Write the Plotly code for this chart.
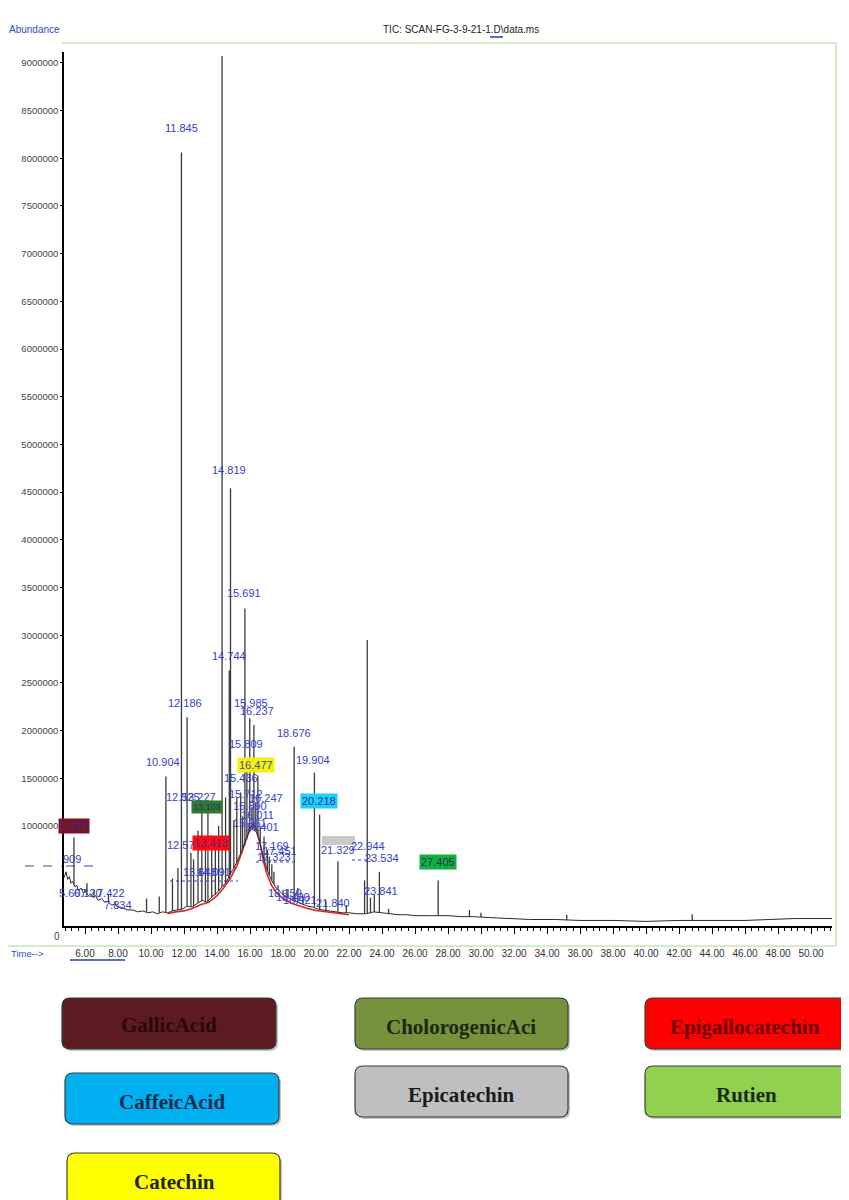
import plotly.graph_objects as go

# ---------------- data ----------------
base_time = [4.73, 4.85, 4.95, 5.05, 5.15, 5.25, 5.4, 5.5, 5.6, 5.75, 5.9, 6.0, 6.2, 6.35, 6.5, 6.65,
             6.8, 7.0, 7.2, 7.4, 7.6, 7.8, 8.0, 8.3, 8.6, 8.9, 9.2, 9.5, 9.8, 10.1, 10.4, 10.7,
             11.0, 11.3, 11.6, 11.9, 12.2, 12.5, 12.8, 13.1, 13.4, 13.7, 14.0, 14.2, 14.4, 14.6,
             14.8, 15.0, 15.2, 15.4, 15.6, 15.8, 16.0, 16.2, 16.4, 16.6, 16.8, 17.0, 17.2, 17.4,
             17.6, 17.8, 18.0, 18.3, 18.6, 18.9, 19.2, 19.5, 19.8, 20.1, 20.4, 20.8, 21.2, 21.6,
             22.0, 22.5, 23.0, 23.5, 24.0, 24.5, 25.0, 25.5, 26.0, 27.0, 28.0, 28.8, 29.5, 30.5,
             31.5, 33.0, 34.5, 36.0, 38.0, 40.0, 42.0, 44.0, 46.0, 47.5, 49.0, 51.27]
base_abund = [460000, 520000, 440000, 470000, 400000, 420000, 360000, 380000, 320000, 350000, 300000,
              320000, 270000, 290000, 250000, 270000, 220000, 240000, 200000, 210000, 170000, 180000,
              150000, 140000, 120000, 120000, 100000, 110000, 90000, 100000, 80000, 100000, 90000,
              110000, 120000, 130000, 160000, 150000, 190000, 220000, 200000, 260000, 300000, 340000,
              380000, 420000, 500000, 550000, 620000, 700000, 780000, 880000, 950000, 980000, 930000,
              820000, 680000, 560000, 470000, 400000, 350000, 310000, 280000, 250000, 220000, 200000,
              180000, 160000, 150000, 130000, 120000, 110000, 100000, 90000, 90000, 80000, 80000,
              100000, 90000, 80000, 70000, 70000, 60000, 60000, 60000, 50000, 50000, 40000, 30000,
              20000, 20000, 10000, 10000, 0, 10000, 10000, 10000, 20000, 30000, 30000]

peak_time = [5.33, 6.12, 6.55, 7.42, 7.83, 9.73, 10.50, 10.904, 11.30, 11.63, 11.845, 12.186, 12.42,
             12.58, 12.85, 13.08, 13.30, 13.45, 13.68, 13.90, 14.10, 14.306, 14.52, 14.744, 14.819,
             15.02, 15.20, 15.436, 15.55, 15.691, 15.809, 15.985, 16.12, 16.237, 16.35, 16.477,
             16.62, 16.85, 17.05, 17.169, 17.323, 17.45, 17.70, 18.00, 18.30, 18.676, 18.90, 19.20,
             19.904, 20.218, 20.60, 21.329, 21.84, 22.944, 23.106, 23.30, 23.534, 23.841, 24.40,
             27.405, 29.30, 30.00, 35.20, 42.80]
peak_height = [880000, 400000, 330000, 280000, 210000, 240000, 260000, 1520000, 450000, 560000,
               8060000, 2140000, 720000, 650000, 950000, 1140000, 800000, 1170000, 900000, 820000,
               1000000, 9070000, 1300000, 2630000, 4540000, 1060000, 1300000, 1350000, 1100000,
               3280000, 1690000, 2130000, 1200000, 2060000, 1250000, 1530000, 1000000, 890000,
               750000, 680000, 600000, 520000, 380000, 330000, 340000, 1830000, 350000, 270000,
               1560000, 1120000, 220000, 630000, 170000, 430000, 2950000, 250000, 280000, 520000,
               130000, 430000, 120000, 90000, 70000, 75000]
peak_base = [380000, 300000, 250000, 210000, 180000, 100000, 90000, 95000, 110000, 120000, 125000,
             160000, 155000, 160000, 190000, 210000, 205000, 210000, 250000, 280000, 320000, 360000,
             400000, 450000, 490000, 550000, 620000, 710000, 750000, 800000, 860000, 940000, 970000,
             975000, 955000, 900000, 820000, 650000, 540000, 490000, 430000, 390000, 330000, 280000,
             250000, 215000, 200000, 180000, 150000, 130000, 115000, 100000, 90000, 80000, 80000,
             85000, 95000, 95000, 85000, 60000, 50000, 45000, 12000, 10000]

red_time = [11.0, 11.5, 12.0, 12.5, 13.0, 13.5, 14.0, 14.4, 14.8, 15.2, 15.5, 15.8, 16.0, 16.2, 16.4,
            16.6, 16.8, 17.0, 17.3, 17.6, 18.0, 18.5, 19.0, 19.5, 20.0, 21.0, 22.0]
red_abund = [80000, 100000, 110000, 135000, 175000, 200000, 270000, 350000, 450000, 580000, 720000,
             890000, 980000, 1020000, 960000, 830000, 640000, 510000, 380000, 300000, 240000, 190000,
             160000, 135000, 115000, 90000, 70000]

x_ticks = [6, 8, 10, 12, 14, 16, 18, 20, 22, 24, 26, 28, 30, 32, 34, 36, 38, 40, 42, 44, 46, 48, 50]
y_ticks = [1000000, 1500000, 2000000, 2500000, 3000000, 3500000, 4000000, 4500000, 5000000,
           5500000, 6000000, 6500000, 7000000, 7500000, 8000000, 8500000, 9000000]

compound_names = ["GallicAcid", "CholorogenicAci", "Epigallocatechin", "CaffeicAcid",
                  "Epicatechin", "Rutien", "Catechin"]
compound_colors = ["#5c1c1f", "#76923c", "#ff0000", "#00b0f0", "#bfbfbf", "#92d050", "#ffff00"]
compound_text_colors = ["#2a0808", "#1a2810", "#6a0000", "#0b2c4c", "#1a1a1a", "#1a2a0c", "#222222"]

# peak labels (text) and where they sit (time, abundance)
label_text = ["14.306", "11.845", "14.819", "15.691", "14.744", "12.186", "15.985", "16.237",
              "18.676", "15.809", "10.904", "19.904", "15.436", "12.525", "13.227", "15.712",
              "16.247", "15.890", "16.011", "15.961", "16.401", "12.571", "17.169", "17.451",
              "17.323", "21.329", "22.944", "23.534", "13.648", "14.091", "909", "5.607", "6.120",
              "7.422", "7.834", "18.150", "18.420", "18.921", "21.840", "23.841"]
label_time = [14.30, 11.82, 14.73, 15.64, 14.73, 12.06, 16.06, 16.42, 18.67, 15.76, 10.73, 19.82,
              15.45, 11.94, 12.91, 15.76, 16.97, 16.00, 16.48, 16.00, 16.73, 12.00, 17.33, 17.82,
              17.45, 21.33, 23.15, 24.00, 12.97, 13.82, 5.21, 5.27, 6.18, 7.58, 8.00, 18.12, 18.60,
              19.03, 21.03, 23.94]
label_abund = [9197000, 8317000, 4732000, 3442000, 2782000, 2289000, 2289000, 2205000, 1975000,
               1860000, 1671000, 1692000, 1503000, 1304000, 1304000, 1335000, 1294000, 1210000,
               1115000, 1031000, 990000, 800000, 790000, 738000, 675000, 748000, 790000, 665000,
               518000, 518000, 654000, 300000, 300000, 300000, 170000, 300000, 256000, 220000,
               190000, 320000]

# highlighted labels (compound peaks)
hl_text = ["5.309", "13.103", "13.413", "16.477", "20.218", "27.405"]
hl_time = [5.33, 13.39, 13.64, 16.36, 20.18, 27.39]
hl_abund = [1005000, 1199000, 820000, 1640000, 1262000, 623000]
hl_bg = ["#7b1424", "#2f7a2f", "#ff0a0a", "#f2f20a", "#19d2f5", "#10b040"]
hl_fg = ["#3a2a8a", "#1a3a6a", "#3a2a9a", "#4a4aa0", "#2030b0", "#203050"]

# ---------------- figure ----------------
# reference pixel frame (page body adds an 8px margin, so the figure is 8px smaller)
OFF = 8
PL, PR, PT, PB = 64, 832, 52, 926
W, H = 849 - OFF, 1200 - OFF


def fx(p):
    return (p - PL) / (PR - PL)


def fy(p):
    return (PB - p) / (PB - PT)


fig = go.Figure()

fig.add_trace(go.Scatter(x=red_time, y=red_abund, mode="lines",
                         line=dict(color="#e02424", width=1.6), hoverinfo="skip"))
fig.add_trace(go.Scatter(x=base_time, y=base_abund, mode="lines",
                         line=dict(color="#2a2a2a", width=1), hoverinfo="skip"))
px_list, py_list = [], []
for t, h, b in zip(peak_time, peak_height, peak_base):
    px_list += [t, t, None]
    py_list += [b, h, None]
fig.add_trace(go.Scatter(x=px_list, y=py_list, mode="lines",
                         line=dict(color="#3a3a3a", width=1.3), hoverinfo="skip"))

annotations = []
for txt, t, v in zip(label_text, label_time, label_abund):
    annotations.append(dict(x=t, y=v, xref="x", yref="y", text=txt, showarrow=False,
                            xanchor="center", yanchor="middle",
                            font=dict(family="Liberation Sans, Arial", size=11, color="#3340d0")))
for txt, t, v, bg, fg in zip(hl_text, hl_time, hl_abund, hl_bg, hl_fg):
    annotations.append(dict(x=t, y=v, xref="x", yref="y", text=txt, showarrow=False,
                            xanchor="center", yanchor="middle", bgcolor=bg, borderpad=1,
                            font=dict(family="Liberation Sans, Arial",
                                      size=9 if txt == "13.103" else 11, color=fg)))

# header texts
annotations += [
    dict(x=fx(461), y=fy(30), xref="paper", yref="paper", showarrow=False,
         xanchor="center", yanchor="middle",
         text="TIC: SCAN-FG-3-9-21-1.D\\data.ms",
         font=dict(family="Liberation Sans, Arial", size=10, color="#222222")),
    dict(x=fx(62), y=fy(30), xref="paper", yref="paper", showarrow=False, xanchor="right",
         yanchor="middle",
         text="Abundance", font=dict(family="Liberation Sans, Arial", size=10, color="#2d4ec8")),
    dict(x=fx(9), y=fy(953), xref="paper", yref="paper", showarrow=False, xanchor="left",
         yanchor="middle",
         text="Time-->", font=dict(family="Liberation Sans, Arial", size=9.5, color="#3050c0")),
    dict(x=fx(57), y=fy(936), xref="paper", yref="paper", showarrow=False,
         xanchor="center", yanchor="middle",
         text="0", font=dict(family="Liberation Sans, Arial", size=10, color="#444444")),
]

shapes = []
green = "#a8d898"
shapes += [
    dict(type="line", xref="paper", yref="paper", x0=fx(62), x1=fx(836), y0=fy(43), y1=fy(43),
         line=dict(color=green, width=1)),
    dict(type="line", xref="paper", yref="paper", x0=fx(836), x1=fx(836), y0=fy(43), y1=fy(946),
         line=dict(color=green, width=1)),
    dict(type="line", xref="paper", yref="paper", x0=fx(8), x1=fx(836), y0=fy(946), y1=fy(946),
         line=dict(color=green, width=1)),
    # underlines
    dict(type="line", xref="paper", yref="paper", x0=fx(70), x1=fx(125), y0=fy(960), y1=fy(960),
         line=dict(color="#2040b0", width=1.5)),
    dict(type="line", xref="paper", yref="paper", x0=fx(490), x1=fx(503), y0=fy(37), y1=fy(37),
         line=dict(color="#2040b0", width=1.5)),
    # dashed marker line on the left
    dict(type="line", xref="paper", yref="paper", x0=fx(25), x1=fx(62), y0=fy(866), y1=fy(866),
         line=dict(color="#555555", width=1, dash="dash")),
    dict(type="line", xref="paper", yref="paper", x0=fx(66), x1=fx(100), y0=fy(866), y1=fy(866),
         line=dict(color="#3040c0", width=1, dash="dash")),
    # small blue dashes under label clusters
    dict(type="line", xref="paper", yref="paper", x0=fx(256), x1=fx(298), y0=fy(862), y1=fy(862),
         line=dict(color="#3040c0", width=1, dash="dot")),
    dict(type="line", xref="paper", yref="paper", x0=fx(170), x1=fx(238), y0=fy(881), y1=fy(881),
         line=dict(color="#3040c0", width=1, dash="dot")),
    dict(type="line", xref="paper", yref="paper", x0=fx(352), x1=fx(372), y0=fy(860), y1=fy(860),
         line=dict(color="#3040c0", width=1, dash="dot")),
    # epicatechin gray marker box
    dict(type="rect", xref="x", yref="y", x0=20.36, x1=22.36, y0=800000, y1=895000,
         fillcolor="#c8c8c8", line=dict(width=0), layer="below"),
]


def rrect(x0, y0, x1, y1, r=8):
    X, Y = fx, fy
    return (f"M {X(x0 + r)},{Y(y0)} L {X(x1 - r)},{Y(y0)} Q {X(x1)},{Y(y0)} {X(x1)},{Y(y0 + r)} "
            f"L {X(x1)},{Y(y1 - r)} Q {X(x1)},{Y(y1)} {X(x1 - r)},{Y(y1)} "
            f"L {X(x0 + r)},{Y(y1)} Q {X(x0)},{Y(y1)} {X(x0)},{Y(y1 - r)} "
            f"L {X(x0)},{Y(y0 + r)} Q {X(x0)},{Y(y0)} {X(x0 + r)},{Y(y0)} Z")


box_geom = [(62, 998, 276, 1049), (355, 998, 568, 1049), (645, 998, 864, 1049),
            (65, 1073, 279, 1124), (355, 1066, 568, 1117), (645, 1066, 864, 1117),
            (67, 1153, 280, 1206)]
text_cx = [169, 461, 745, 172, 461, 746, 174]
text_cy = [1025, 1027, 1027, 1102, 1095, 1095, 1182]
for (x0, y0, x1, y1), name, col, tcol, cx, cy in zip(box_geom, compound_names, compound_colors,
                                                      compound_text_colors, text_cx, text_cy):
    shapes.append(dict(type="path", xref="paper", yref="paper",
                       path=rrect(x0 + 2, y0 + 2, x1 + 2, y1 + 2),
                       fillcolor="rgba(90,90,90,0.35)", line=dict(width=0)))
    shapes.append(dict(type="path", xref="paper", yref="paper", path=rrect(x0, y0, x1, y1),
                       fillcolor=col, line=dict(color="#3c3c3c", width=1.2)))
    annotations.append(dict(x=fx(cx), y=fy(cy), xref="paper", yref="paper",
                            xanchor="center", yanchor="middle",
                            showarrow=False, text=f"<b>{name}</b>",
                            font=dict(family="Liberation Serif, Times New Roman, serif",
                                      size=21, color=tcol)))

fig.update_layout(
    width=W, height=H, autosize=False,
    margin=dict(l=PL - OFF, r=W - (PR - OFF), t=PT - OFF, b=H - (PB - OFF), pad=0),
    paper_bgcolor="white", plot_bgcolor="white",
    showlegend=False,
    annotations=annotations, shapes=shapes,
    xaxis=dict(range=[(PL + 14) / 16.5, (PR + 14) / 16.5], tickmode="array", tickvals=x_ticks,
               ticktext=[f"{v:.2f}" for v in x_ticks], ticks="outside", ticklen=6,
               tickcolor="black", showline=True, linecolor="black", linewidth=1.5,
               showgrid=False, zeroline=False, ticklabelstandoff=11,
               tickfont=dict(family="Liberation Sans, Arial", size=10, color="#333333"),
               minor=dict(tickmode="linear", tick0=0, dtick=0.4, ticks="outside", ticklen=3,
                          tickcolor="black", showgrid=False)),
    yaxis=dict(range=[(921.4 - PB) / 95.4 * 1e6, (921.4 - PT) / 95.4 * 1e6], tickmode="array",
               tickvals=y_ticks, ticktext=[str(v) for v in y_ticks], ticks="outside", ticklen=2,
               tickcolor="black", showline=True, linecolor="black", linewidth=1.5,
               showgrid=False, zeroline=False,
               tickfont=dict(family="Liberation Sans, Arial", size=9.5, color="#444444")),
)

fig.write_html("out.html")
